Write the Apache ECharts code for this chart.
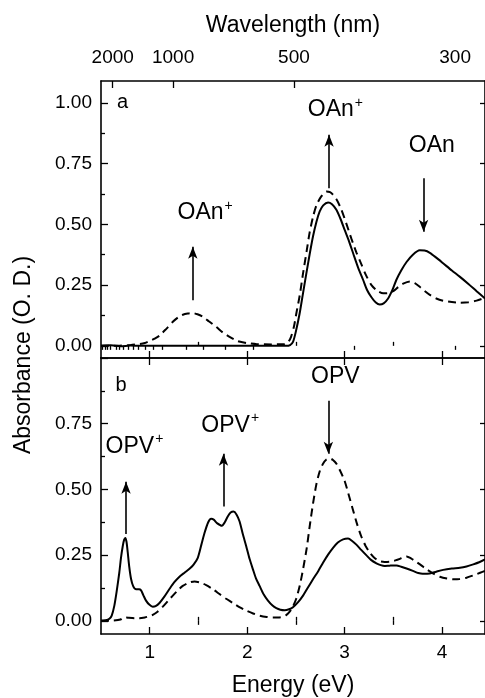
<!DOCTYPE html>
<html><head><meta charset="utf-8">
<script src="https://cdn.jsdelivr.net/npm/echarts@6/dist/echarts.min.js"></script>
<style>html,body{margin:0;padding:0;background:#fff}#c{width:485px;height:698px}</style>
</head><body><div id="c"></div>
<script>
// ---------- data ----------
const energyA_solid = [0.50,0.60,0.70,0.80,0.90,1.00,1.50,2.00,2.40,2.44,2.47,2.50,2.538,2.57,2.607,2.64,2.675,2.71,2.744,2.78,2.83,2.87,2.915,2.96,3.00,3.045,3.087,3.14,3.19,3.23,3.275,3.32,3.36,3.40,3.446,3.49,3.53,3.58,3.635,3.70,3.77,3.82,3.874,3.94,4.01,4.10,4.18,4.27,4.354,4.44];
const absA_solid    = [0.0,0.002,-0.002,0.001,0.0,0.0,0.0,0.0,0.0,0.003,0.016,0.06,0.133,0.21,0.298,0.375,0.45,0.51,0.553,0.578,0.59,0.583,0.56,0.52,0.477,0.43,0.381,0.32,0.271,0.23,0.20,0.178,0.17,0.175,0.195,0.23,0.271,0.31,0.345,0.375,0.393,0.392,0.383,0.363,0.34,0.31,0.285,0.255,0.225,0.195];

const energyA_dash = [0.50,0.60,0.70,0.80,0.90,0.95,1.00,1.05,1.10,1.17,1.237,1.29,1.34,1.39,1.442,1.49,1.545,1.61,1.682,1.75,1.819,1.90,1.99,2.10,2.25,2.38,2.42,2.45,2.48,2.504,2.54,2.573,2.61,2.64,2.675,2.71,2.76,2.812,2.85,2.88,2.92,2.967,3.02,3.07,3.12,3.172,3.22,3.275,3.33,3.395,3.45,3.498,3.55,3.60,3.67,3.72,3.77,3.82,3.874,3.94,4.01,4.10,4.18,4.27,4.354,4.44];
const absA_dash    = [0.0,0.0,0.001,0.003,0.008,0.012,0.02,0.03,0.042,0.07,0.099,0.117,0.128,0.133,0.135,0.13,0.12,0.10,0.078,0.055,0.037,0.02,0.012,0.007,0.006,0.007,0.015,0.037,0.08,0.133,0.21,0.298,0.39,0.465,0.53,0.578,0.615,0.635,0.633,0.622,0.60,0.56,0.50,0.44,0.385,0.335,0.29,0.25,0.228,0.216,0.217,0.225,0.242,0.256,0.265,0.258,0.243,0.226,0.21,0.195,0.186,0.18,0.177,0.179,0.186,0.198];

const energyB_solid = [0.50,0.55,0.586,0.61,0.637,0.66,0.688,0.705,0.723,0.737,0.75,0.762,0.774,0.79,0.808,0.83,0.86,0.89,0.911,0.935,0.962,0.995,1.031,1.06,1.10,1.15,1.202,1.25,1.305,1.36,1.408,1.45,1.493,1.53,1.562,1.60,1.63,1.66,1.69,1.74,1.77,1.802,1.83,1.86,1.89,1.922,1.955,1.99,2.025,2.059,2.09,2.127,2.17,2.213,2.26,2.299,2.34,2.384,2.43,2.47,2.52,2.573,2.62,2.675,2.73,2.778,2.83,2.881,2.93,2.984,3.035,3.08,3.12,3.17,3.224,3.27,3.326,3.37,3.412,3.46,3.532,3.58,3.635,3.70,3.755,3.80,3.874,3.94,4.011,4.10,4.183,4.25,4.32,4.38,4.44];
const absB_solid    = [0.0,0.002,0.008,0.02,0.058,0.11,0.184,0.24,0.284,0.308,0.315,0.30,0.262,0.205,0.16,0.132,0.12,0.12,0.116,0.097,0.077,0.062,0.054,0.056,0.068,0.092,0.121,0.146,0.168,0.184,0.198,0.214,0.24,0.29,0.334,0.375,0.388,0.384,0.372,0.362,0.375,0.398,0.412,0.416,0.405,0.378,0.33,0.284,0.235,0.196,0.162,0.133,0.10,0.077,0.058,0.048,0.042,0.04,0.044,0.052,0.07,0.096,0.125,0.158,0.19,0.221,0.252,0.278,0.298,0.31,0.313,0.303,0.29,0.27,0.249,0.232,0.219,0.212,0.209,0.21,0.211,0.206,0.199,0.19,0.182,0.179,0.18,0.187,0.194,0.199,0.202,0.207,0.215,0.223,0.234];

const energyB_dash = [0.50,0.55,0.62,0.70,0.74,0.78,0.85,0.894,0.95,1.00,1.031,1.08,1.134,1.19,1.237,1.29,1.339,1.40,1.459,1.52,1.579,1.65,1.716,1.78,1.853,1.92,1.99,2.06,2.127,2.20,2.264,2.32,2.367,2.40,2.436,2.47,2.504,2.54,2.573,2.61,2.641,2.675,2.71,2.745,2.778,2.81,2.847,2.88,2.915,2.955,3.00,3.045,3.087,3.13,3.172,3.215,3.258,3.31,3.36,3.41,3.463,3.52,3.566,3.60,3.635,3.68,3.737,3.79,3.84,3.91,3.977,4.05,4.114,4.18,4.25,4.32,4.39,4.44];
const absB_dash    = [0.0,0.0,0.001,0.005,0.014,0.012,0.01,0.01,0.013,0.018,0.023,0.035,0.054,0.077,0.096,0.117,0.133,0.145,0.15,0.145,0.136,0.12,0.102,0.085,0.068,0.052,0.039,0.028,0.02,0.015,0.013,0.013,0.016,0.022,0.035,0.055,0.085,0.135,0.196,0.275,0.359,0.445,0.52,0.57,0.598,0.613,0.618,0.612,0.598,0.57,0.532,0.475,0.42,0.365,0.32,0.285,0.26,0.238,0.227,0.224,0.225,0.23,0.236,0.242,0.245,0.238,0.224,0.21,0.196,0.18,0.168,0.161,0.158,0.159,0.164,0.173,0.183,0.19];

// ticks
const energyTicks = [1, 2, 3, 4];
const energyMinorTicks = [1.5, 2.5, 3.5];
const absTicksA = [0, 0.25, 0.5, 0.75, 1.0];
const absTicksB = [0, 0.25, 0.5, 0.75];
const absMinorTicks = [0.125, 0.375, 0.625, 0.875];
const wavelengthLabels = [2000, 1000, 500, 300];
const wavelengthMajor = [2000, 1000, 500];
const wavelengthMinor = [2400,2300,2200,2100,1900,1800,1700,1600,1500,1400,1300,1200,1100,900,800,700,600,400,300];

// annotations
const annotTextA = ['a', 'OAn+', 'OAn+', 'OAn'];
const annotXA = [0.722, 1.569, 2.905, 3.895];
const annotYA = [1.0, 0.547, 0.972, 0.824];
const arrowXA = [1.442, 2.84, 3.81];
const arrowFromA = [0.188, 0.649, 0.69];
const arrowToA = [0.408, 0.869, 0.47];

const annotTextB = ['b', 'OPV+', 'OPV+', 'OPV'];
const annotXB = [0.706, 0.843, 1.826, 2.905];
const annotYB = [0.897, 0.664, 0.743, 0.928];
const arrowXB = [0.757, 1.757, 2.833];
const arrowFromB = [0.33, 0.435, 0.837];
const arrowToB = [0.529, 0.636, 0.636];

// ---------- chart ----------
const FONT = '"Liberation Sans", Arial, sans-serif';
const E_MIN = 0.5, E_MAX = 4.44;
const toE = l => 1240 / l;
const zip = (xs, ys) => xs.map((x, i) => [x, ys[i]]);

function xAx(grid, pos, ticks, len, extra) {
  return Object.assign({
    type: 'value', gridIndex: grid, position: pos, min: E_MIN, max: E_MAX,
    axisLine: { show: false },
    axisTick: { show: true, inside: true, length: len, customValues: ticks, lineStyle: { color: '#000', width: 1.3 } },
    axisLabel: { show: false },
    splitLine: { show: false }
  }, extra || {});
}
function yAx(grid, pos, min, max, ticks, len, extra) {
  return Object.assign({
    type: 'value', gridIndex: grid, position: pos, min: min, max: max,
    axisLine: { show: false },
    axisTick: { show: true, inside: true, length: len, customValues: ticks, lineStyle: { color: '#000', width: 1.3 } },
    axisLabel: { show: false },
    splitLine: { show: false }
  }, extra || {});
}
const lineOn = { show: true, onZero: false, lineStyle: { color: '#000', width: 1.6 } };

const xAxes = [
  // grid 0
  xAx(0, 'bottom', energyTicks, 7, { axisLine: lineOn }),
  xAx(0, 'bottom', energyMinorTicks, 4),
  xAx(0, 'top', wavelengthMajor.map(toE), 7, {
    axisLine: lineOn,
    axisLabel: { show: true, customValues: wavelengthLabels.map(toE), margin: 14,
      formatter: v => String(Math.round(1240 / v)), color: '#000', fontSize: 19, fontFamily: FONT },
    name: 'Wavelength (nm)', nameLocation: 'middle', nameGap: 44,
    nameTextStyle: { color: '#000', fontSize: 23, fontFamily: FONT }
  }),
  xAx(0, 'top', wavelengthMinor.map(toE), 4),
  // grid 1
  xAx(1, 'bottom', energyTicks, 7, {
    axisLine: lineOn,
    axisLabel: { show: true, customValues: energyTicks, margin: 9,
      formatter: v => String(v), color: '#000', fontSize: 19, fontFamily: FONT },
    name: 'Energy (eV)', nameLocation: 'middle', nameGap: 40,
    nameTextStyle: { color: '#000', fontSize: 23, fontFamily: FONT }
  }),
  xAx(1, 'bottom', energyMinorTicks, 4),
  xAx(1, 'top', energyTicks, 7, { axisLine: lineOn }),
  xAx(1, 'top', energyMinorTicks, 4)
];

const labelLeft = (ticks) => ({ show: true, customValues: ticks, margin: 9,
  formatter: v => v.toFixed(2), color: '#000', fontSize: 19, fontFamily: FONT });

const yAxes = [
  yAx(0, 'left', -0.05, 1.09, absTicksA, 7, { axisLine: lineOn, axisLabel: labelLeft(absTicksA) }),
  yAx(0, 'left', -0.05, 1.09, absMinorTicks, 4),
  yAx(0, 'right', -0.05, 1.09, absTicksA, 5, { axisLine: lineOn }),
  yAx(1, 'left', -0.05, 1.0, absTicksB.concat([1.0]), 7, { axisLine: lineOn, axisLabel: labelLeft(absTicksB) }),
  yAx(1, 'left', -0.05, 1.0, absMinorTicks, 4),
  yAx(1, 'right', -0.05, 1.0, absTicksB, 5, { axisLine: lineOn })
];

function richLabel(t) {
  if (t.endsWith('+')) return '{m|' + t.slice(0, -1) + '}{s|+}';
  if (t.length === 1) return '{p|' + t + '}';
  return '{m|' + t + '}';
}
const rich = {
  m: { fontSize: 23, fontFamily: FONT, color: '#000', lineHeight: 28, opacity: 1 },
  s: { fontSize: 14, fontFamily: FONT, color: '#000', verticalAlign: 'top', padding: [0, 0, 0, 1], opacity: 1 },
  p: { fontSize: 20, fontFamily: FONT, color: '#000', opacity: 1 }
};

function annotSeries(xi, yi, texts, xs, ys, ax, af, at) {
  return {
    type: 'scatter', xAxisIndex: xi, yAxisIndex: yi, symbolSize: 0, silent: true, z: 10,
    itemStyle: { color: '#000', opacity: 1 },
    data: texts.map((t, i) => ({ value: [xs[i], ys[i]], name: t })),
    label: { show: true, position: 'inside', color: '#000', opacity: 1, textBorderWidth: 0,
      formatter: p => richLabel(p.name), rich: rich },
    emphasis: { disabled: true },
    markLine: {
      silent: true, symbol: ['none', 'arrow'], symbolSize: [7, 12],
      lineStyle: { color: '#000', width: 1.6, type: 'solid', opacity: 1 },
      itemStyle: { color: '#000' },
      label: { show: false },
      data: ax.map((x, i) => [{ coord: [x, af[i]] }, { coord: [x, at[i]] }])
    }
  };
}

function curve(xi, yi, xs, ys, dashed) {
  return {
    type: 'line', xAxisIndex: xi, yAxisIndex: yi, data: zip(xs, ys),
    showSymbol: false, smooth: 0.25, silent: true,
    lineStyle: { color: '#000', width: 2, type: dashed ? [8, 5] : 'solid' }
  };
}

const option = {
  animation: false,
  backgroundColor: '#fff',
  textStyle: { fontFamily: FONT, color: '#000' },
  grid: [
    { left: 101, right: 0, top: 81, height: 277 },
    { left: 101, right: 0, top: 358, height: 278 }
  ],
  xAxis: xAxes,
  yAxis: yAxes,
  graphic: [{
    type: 'text', x: 24, y: 355, rotation: Math.PI / 2,
    style: { text: 'Absorbance (O. D.)', font: '23px ' + FONT, fill: '#000', align: 'center', verticalAlign: 'middle' }
  }],
  series: [
    curve(0, 0, energyA_solid, absA_solid, false),
    curve(0, 0, energyA_dash, absA_dash, true),
    curve(4, 3, energyB_solid, absB_solid, false),
    curve(4, 3, energyB_dash, absB_dash, true),
    annotSeries(0, 0, annotTextA, annotXA, annotYA, arrowXA, arrowFromA, arrowToA),
    annotSeries(4, 3, annotTextB, annotXB, annotYB, arrowXB, arrowFromB, arrowToB)
  ]
};

const chart = echarts.init(document.getElementById('c'), null, { renderer: 'canvas' });
chart.setOption(option);
</script>
</body></html>
